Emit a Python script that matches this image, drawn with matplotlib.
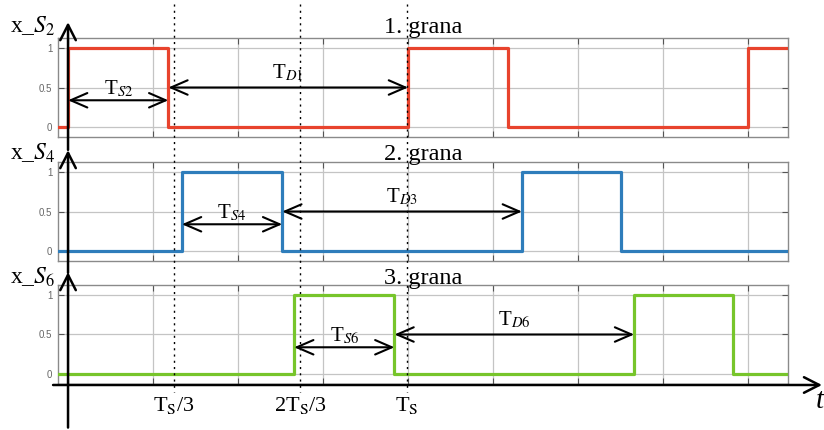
import numpy as np
import matplotlib.pyplot as plt
from matplotlib import transforms

plt.rcParams['font.family'] = ['Liberation Serif', 'DejaVu Serif']
plt.rcParams['mathtext.fontset'] = 'stix'

# time axis in ms, Ts = 20 ms
t_min, t_max = -0.59, 42.35
red_edges = [0.0, 5.9, 20.0, 25.9, 40.0]
blue_edges = [6.7, 12.6, 26.7, 32.5]
green_edges = [13.3, 19.2, 33.3, 39.1]
grid_t = [0, 5, 10, 15, 20, 25, 30, 35, 40]
y_ticks = [0, 0.5, 1]
y_tick_labels = ['0', '0.5', '1']
titles = ['1. grana', '2. grana', '3. grana']
y_labels = [r'x_$S_2$', r'x_$S_4$', r'x_$S_6$']
ts_labels = [r'T$_{S2}$', r'T$_{S4}$', r'T$_{S6}$']
td_labels = [r'T$_{D1}$', r'T$_{D3}$', r'T$_{D6}$']
mark_t = [6.24, 13.65, 19.94]
mark_labels = [r'T$_\mathrm{S}$/3', r'2T$_\mathrm{S}$/3', r'T$_\mathrm{S}$']
colors = ['#e8432d', '#2e7dbb', '#77c52b']


def pulse(edges):
    t = [t_min] + list(edges) + [t_max]
    v = [0] + [(k + 1) % 2 for k in range(len(edges))]
    v.append(v[-1])
    return t, v


W, H = 824, 430
fig = plt.figure(figsize=(W / 100, H / 100), dpi=100)
tops = [38, 162, 285]
label_base = [1.05, 1.02, 1.01]
tip = [1.16, 1.12, 1.13]
tail = [-0.13, -0.12, -0.44]
axes = []
arrow_kw = dict(arrowstyle='<->,head_length=0.6,head_width=0.26', lw=1.5,
                color='black', shrinkA=0, shrinkB=0, mutation_scale=20)

for i, edges in enumerate([red_edges, blue_edges, green_edges]):
    ax = fig.add_axes([58 / W, 1 - (tops[i] + 99) / H, 730 / W, 99 / H])
    axes.append(ax)
    t, v = pulse(edges)
    ax.step(t, v, where='post', color=colors[i], lw=2.3, zorder=3)
    ax.set_xlim(t_min, t_max)
    ax.set_ylim(-0.12, 1.12)
    ax.set_xticks(grid_t)
    ax.set_xticklabels([])
    ax.set_yticks(y_ticks)
    ax.set_yticklabels(y_tick_labels, fontfamily='Liberation Sans', fontsize=7, color='#666666')
    ax.tick_params(direction='in', length=4, width=0.8, color='#555555', top=True, right=True, pad=4)
    ax.grid(True, color='#c4c4c4', lw=0.9)
    for s in ax.spines.values():
        s.set_color('#8a8a8a')
        s.set_linewidth(1.0)

    ax.text(0.5, label_base[i], titles[i], transform=ax.transAxes, ha='center',
            va='baseline', fontsize=17.5)
    ax.text(-0.066, label_base[i], y_labels[i], transform=ax.transAxes, ha='left',
            va='baseline', fontsize=17)

    # pulse width and delay arrows
    ax.annotate('', xy=(edges[1], 0.34), xytext=(edges[0], 0.34), arrowprops=arrow_kw, zorder=5)
    ax.annotate('', xy=(edges[2], 0.5), xytext=(edges[1], 0.5), arrowprops=arrow_kw, zorder=5)
    ax.text((edges[0] + edges[1]) / 2, 0.42, ts_labels[i], ha='center', va='baseline', fontsize=15)
    ax.text((edges[1] + edges[2]) / 2, 0.62, td_labels[i], ha='center', va='baseline', fontsize=15)

    # vertical axis arrow at t = 0
    ax.annotate('', xy=(0, tip[i]), xytext=(0, tail[i]), xycoords=('data', 'axes fraction'),
                textcoords=('data', 'axes fraction'), annotation_clip=False,
                arrowprops=dict(arrowstyle='->,head_length=0.55,head_width=0.28', lw=1.8,
                                color='black', shrinkA=0, shrinkB=0, mutation_scale=20),
                zorder=6)

ax3 = axes[-1]
# time axis
ax3.annotate('', xy=(44.35, -0.01), xytext=(-0.88, -0.01), xycoords=('data', 'axes fraction'),
             textcoords=('data', 'axes fraction'), annotation_clip=False,
             arrowprops=dict(arrowstyle='->,head_length=0.55,head_width=0.28', lw=1.8,
                             color='black', shrinkA=0, shrinkB=0, mutation_scale=20))
ax3.text(44.0, -0.24, 't', transform=transforms.blended_transform_factory(ax3.transData, ax3.transAxes),
         fontsize=21, style='italic', ha='left', va='baseline')

# dotted Ts markers over all panels
trans = transforms.blended_transform_factory(ax3.transData, fig.transFigure)
for tm, lab in zip(mark_t, mark_labels):
    fig.add_artist(plt.Line2D([tm, tm], [1 - 4 / H, 1 - 392 / H], transform=trans,
                              color='black', lw=1.0, ls=(0, (1.5, 3))))
    fig.text(tm, 1 - 411 / H, lab, transform=trans, ha='center', va='baseline', fontsize=16)

fig.savefig('out.png', dpi=100)
